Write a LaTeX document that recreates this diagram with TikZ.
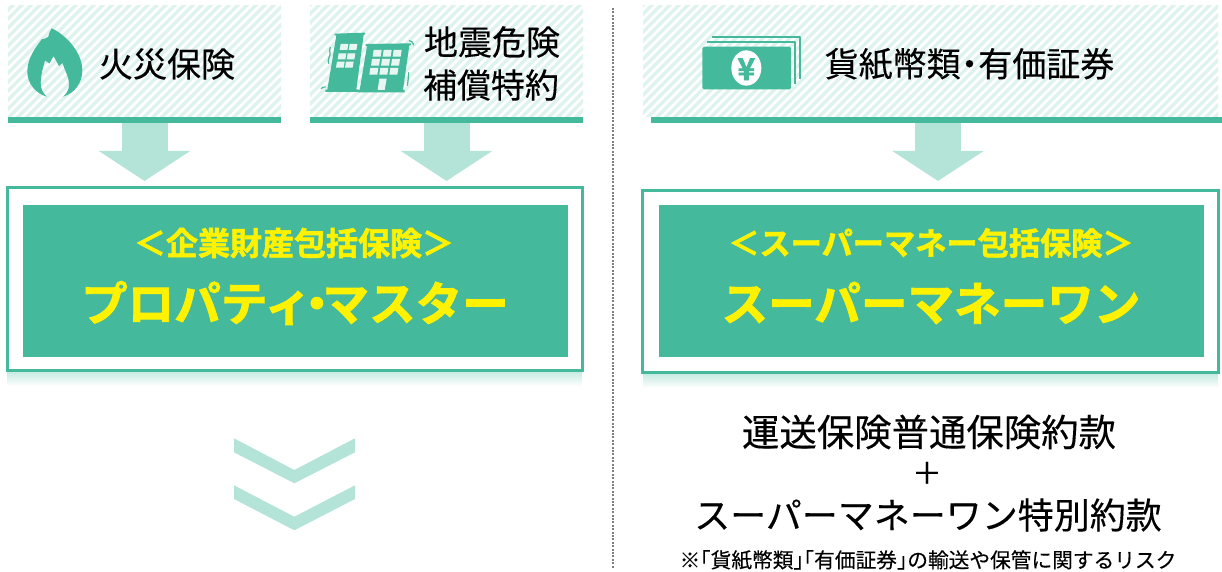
\documentclass[tikz,border=0pt]{standalone}
\usepackage{fontspec}
\setmainfont[FakeBold=.25,BoldFont={Noto Sans CJK JP Bold},BoldFeatures={FakeBold=1.8}]{Noto Sans CJK JP}
\usetikzlibrary{arrows.meta}
\definecolor{grn}{HTML}{45B99C}
\definecolor{lgrn}{HTML}{B4E4D8}
\definecolor{hatchc}{HTML}{DFF3EE}
\newcommand{\nd}[1]{\kern-#1em・\kern-#1em}
\newcommand{\lb}{\kern-.5em「}
\newcommand{\rb}{」\kern-.5em}
\tikzset{
  pane/.style={inner sep=0pt,outer sep=0pt,minimum width=#1,minimum height=111pt},
  barbox/.style={fill=grn,inner sep=0pt,outer sep=0pt,minimum height=6pt,minimum width=#1},
  framebox/.style={draw=grn,line width=2.6pt,fill=white,inner sep=0pt,outer sep=0pt},
  corebox/.style={fill=grn,inner sep=0pt,outer sep=0pt,minimum width=545pt,minimum height=152pt},
  blockarrow/.style={draw=lgrn,line width=46pt,-{Triangle[width=90pt,length=30pt,sep=0pt]},shorten >=0pt},
  lab/.style={inner sep=0pt,black,font=\fontsize{#1}{#1}\selectfont},
  head/.style={inner sep=0pt,text=yellow,font=\fontsize{#1}{#1}\selectfont\bfseries},
  winfill/.style={fill=white,fill opacity=.88},
  wig/.style={grn,line width=1.2pt,line cap=round},
}
\newcommand{\hatchit}[1]{%
  \begin{scope}
    \clip (#1.south west) rectangle (#1.north east);
    \foreach \k in {0,9,...,1350} {\draw[hatchc,line width=3.4pt] (\k,0) -- (\k-130,130);}
  \end{scope}}
\begin{document}
\begin{tikzpicture}[x=1pt,y=-1pt]
\useasboundingbox (0,0) rectangle (1222,572);
% panes
\node[pane=273pt] (b1) at (144.5,61.5) {};
\node[pane=273pt] (b2) at (446.5,61.5) {};
\node[pane=575pt] (b3) at (930.5,61.5) {};
\hatchit{b1}\hatchit{b2}\hatchit{b3}
\node[barbox=273pt] (s1) at (144.5,120) {};
\node[barbox=273pt] (s2) at (446.5,120) {};
\node[barbox=571pt] (s3) at (936.5,120) {};
% shadows
\shade[top color=lgrn!75,bottom color=white] (7,372) rectangle (582,386);
\shade[top color=lgrn!75,bottom color=white] (643,374) rectangle (1218,388);
% frames
\node[framebox,minimum width=575pt,minimum height=183pt] (p1) at (295,279) {};
\node[framebox,minimum width=576pt,minimum height=182pt] (p2) at (930.5,281.5) {};
\node[corebox] (c1) at (295.5,281) {};
\node[corebox] (c2) at (931.5,281) {};
% block arrows
\coordinate (a3) at (938,123);
\draw[blockarrow] (s1.south) -- (s1.south |- 0,181);
\draw[blockarrow] (s2.south) -- (s2.south |- 0,181);
\draw[blockarrow] (a3) -- (a3 |- 0,181);
% chevrons
\fill[lgrn] (234,438.3) -- (294.3,470) -- (355,438.3) -- (355,452.3) -- (294.3,483.3) -- (234,452.3) -- cycle;
\fill[lgrn] (234,485.3) -- (294.3,516.7) -- (355,485.3) -- (355,499) -- (294.3,530.3) -- (234,499) -- cycle;
% divider
\draw[gray,line width=2pt,dash pattern=on 2pt off 1.4pt] (613,8) -- (613,568);
% flame
\fill[grn] (51.7,28.3) .. controls (68,36) and (82.3,54) .. (82.3,70)
  .. controls (82.3,84) and (74,93) .. (63.3,96.7)
  .. controls (68,92) and (69.5,88) .. (69,83)
  .. controls (68.5,76) and (65,71) .. (62.5,63)
  -- (59,66) -- (53.5,56) -- (49.5,63.5) -- (45,60.5)
  .. controls (43,68) and (40.7,75) .. (40.7,83)
  .. controls (40.7,89) and (43,93) .. (46.7,96.7)
  .. controls (35,93) and (27.3,83) .. (27.3,71.7)
  .. controls (27.3,58) and (36,47) .. (41.7,39.3)
  .. controls (44,39) and (46,38.5) .. (48.3,36.7)
  .. controls (49,33.5) and (50,30.5) .. (51.7,28.3) -- cycle;
% buildings
\begin{scope}[shift={(318,24)},scale=1/3]
  \fill[grn] (50,29) -- (141,26) -- (141,32) -- (137,32) -- (115,196) -- (120,196) -- (120,204) -- (22,204) -- (22,197) -- (28,197) -- (55,34) -- (50,34) -- cycle;
  \fill[grn] (143,60) -- (279,58) -- (279,64) -- (274,64) -- (255,198) -- (260,198) -- (260,205) -- (120,205) -- (120,198) -- (125,198) -- (147,66) -- (143,66) -- cycle;
  \foreach \xa/\ya in {66/60,93/60,60/88,87/88,55/113,82/113}
    \fill[winfill] (\xa,\ya) ++(2,0) -- ++(23,0) -- ++(-3,18) -- ++(-23,0) -- cycle;
  \foreach \xa/\ya in {165/78,195/78,225/78,160/105,190/105,220/105,155/132,185/132,215/132}
    \fill[winfill] (\xa,\ya) ++(2,0) -- ++(24,0) -- ++(-3,20) -- ++(-24,0) -- cycle;
  \fill[winfill] (184,164) -- (206,164) -- (200,198) -- (179,198) -- cycle;
  \draw[wig] (37,70) .. controls (30,82) and (42,88) .. (33,100) .. controls (28,108) and (32,112) .. (32,118);
  \draw[wig] (10,194) .. controls (12,190) and (16,188) .. (22,189);
  \draw[wig] (274,50) .. controls (282,52) and (286,56) .. (287,63);
  \draw[wig] (272,146) .. controls (266,156) and (276,162) .. (270,172) .. controls (268,176) and (268,180) .. (268,184);
\end{scope}
% banknotes
\begin{scope}[shift={(630,0)},scale=1/3]
  \draw[grn,line width=2pt,line join=round] (247,112) -- (509,112) -- (509,237);
  \draw[grn,line width=2pt,line join=round] (232,127) -- (496,127) -- (496,252);
  \fill[grn,rounded corners=1.5pt] (217,140) rectangle (483,268);
  \fill[white] (349,204) ellipse [x radius=45,y radius=53];
  \node[inner sep=0pt,text=grn,font=\fontsize{30}{30}\selectfont\bfseries] (yen) at (349,208) {¥};
\end{scope}
% labels
\node[lab=34] (t1) at (167,64) {火災保険};
\node[lab=34] (t2) at (492,42) {地震危険};
\node[lab=34] (t3) at (491,85) {補償特約};
\node[lab=34] (t4) at (969.5,64) {貨紙幣類\nd{.24}有価証券};
\node[head=32] (h1) at (294,243) {＜企業財産包括保険＞};
\node[head=46.6] (h2) at (295,303) {プロパティ\nd{.38}マスター};
\node[head=31.2] (h3) at (931,243) {＜スーパーマネー包括保険＞};
\node[head=46.6] (h4) at (931,303) {スーパーマネーワン};
\node[lab=37.4] (r1) at (929,432) {運送保険普通保険約款};
\node[lab=30] (r2) at (927,473) {＋};
\node[lab=36] (r3) at (928,515) {スーパーマネーワン特別約款};
\node[lab=20.7] (r4) at (928,560) {※\lb 貨紙幣類\rb\lb 有価証券\rb の輸送や保管に関するリスク};
\end{tikzpicture}
\end{document}
